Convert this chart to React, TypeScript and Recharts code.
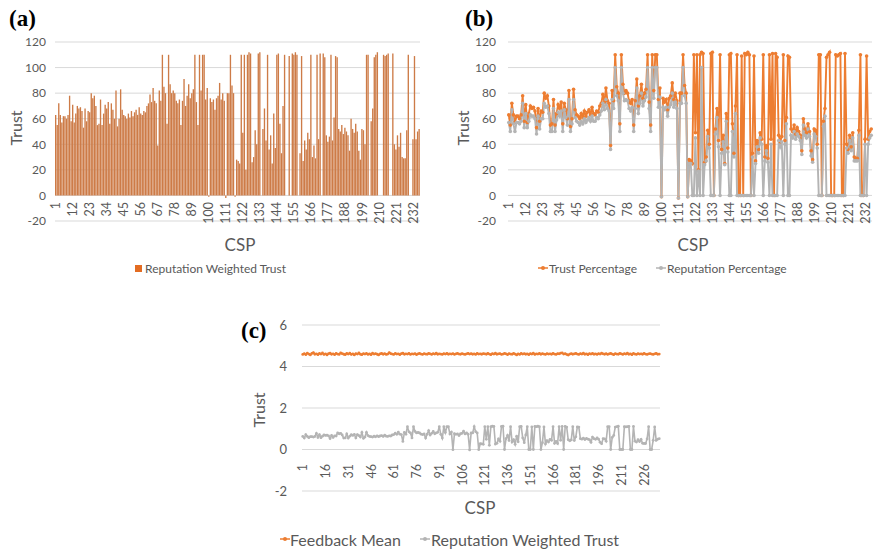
import { BarChart, Bar, LineChart, Line, XAxis, YAxis, CartesianGrid } from "recharts"

// CSP index 1..236
const cspIds = Array.from({ length: 236 }, (_, i) => i + 1)

// (a) bars and (b) orange line: same values in the picture
const weightedTrust = [
  63, 55, 72, 63, 57, 62, 62, 60, 63, 78,
  58, 71, 57, 64, 70, 68, 69, 66, 53, 68,
  58, 66, 65, 80, 76, 78, 70, 55, 56, 75,
  55, 64, 71, 68, 73, 56, 72, 67, 60, 82,
  54, 60, 83, 67, 63, 62, 60, 64, 61, 66,
  62, 65, 67, 63, 69, 64, 63, 66, 65, 70,
  72, 79, 73, 84, 74, 72, 39, 82, 74, 110,
  85, 80, 56, 110, 87, 80, 82, 80, 74, 72,
  75, 55, 74, 91, 70, 78, 87, 76, 80, 83,
  110, 73, 55, 110, 82, 110, 110, 75, 84, -1,
  76, 73, 75, 67, 76, 78, 88, 75, 80, 74,
  -2, 80, 80, 110, 86, 80, -1, 28, 27, 25,
  110, 49, 110, 20, 110, 112, 111, 26, 30, 51,
  40, 111, 112, 0, 52, 68, 43, 110, 36, 47,
  25, 64, 37, 110, 111, 56, 33, 70, 110, 0,
  0, 109, 0, 111, 110, 112, 110, 0, 33, 109,
  27, 43, 36, 49, 44, 110, 30, 39, 29, 110,
  44, 111, 0, 111, 108, 47, 42, 46, 110, 43,
  61, 109, 108, 52, 50, 55, 48, 53, 50, 47,
  35, 60, 52, 49, 56, 50, 35, 28, 52, 51,
  40, 110, 110, 0, 58, 68, 108, 110, 112, 0,
  0, 0, 110, 109, 110, 111, 0, 0, 111, 40,
  36, 47, 38, 49, 30, 29, 29, 51, 110, 0,
  0, 44, 109, 44, 50, 52
]

// (b) gray line
const reputationPct = [
  57, 50, 67, 56, 50, 57, 57, 56, 58, 72,
  53, 64, 53, 58, 63, 62, 62, 60, 48, 62,
  52, 60, 60, 72, 69, 70, 64, 50, 50, 68,
  50, 59, 65, 62, 66, 50, 67, 61, 55, 75,
  50, 56, 75, 61, 58, 57, 55, 58, 56, 60,
  57, 59, 61, 58, 62, 58, 58, 61, 60, 63,
  66, 72, 67, 75, 68, 66, 36, 75, 68, 100,
  78, 74, 50, 100, 80, 74, 75, 74, 68, 66,
  69, 50, 68, 84, 64, 72, 80, 70, 74, 77,
  100, 68, 50, 100, 76, 100, 100, 69, 77, -1,
  69, 67, 69, 62, 69, 71, 80, 69, 73, 68,
  -2, 72, 72, 100, 78, 72, -1, 25, 25, 0,
  0, 45, 0, 19, 0, 100, 0, 24, 27, 46,
  37, 0, 0, 0, 48, 61, 38, 0, 33, 42,
  24, 58, 34, 0, 0, 50, 30, 64, 0, 0,
  0, 0, 0, 0, 0, 0, 0, 0, 30, 0,
  25, 38, 33, 45, 40, 0, 27, 35, 26, 0,
  40, 0, 0, 0, 0, 43, 38, 42, 0, 40,
  56, 0, 0, 47, 45, 50, 44, 48, 46, 43,
  32, 55, 47, 45, 52, 46, 31, 26, 48, 46,
  37, 0, 0, 0, 54, 62, 0, 0, 0, 0,
  0, 0, 0, 0, 0, 0, 0, 0, 0, 37,
  33, 43, 35, 45, 27, 27, 27, 47, 0, 0,
  0, 40, 0, 40, 45, 47
]

// (c) orange line
const feedbackMean = [
  4.58, 4.62, 4.57, 4.64, 4.60, 4.56, 4.63, 4.67, 4.59, 4.61,
  4.57, 4.63, 4.60, 4.65, 4.58, 4.61, 4.56, 4.62, 4.64, 4.59,
  4.61, 4.57, 4.63, 4.60, 4.58, 4.66, 4.62, 4.59, 4.57, 4.63,
  4.60, 4.64, 4.58, 4.61, 4.56, 4.62, 4.60, 4.65, 4.59, 4.57,
  4.62, 4.60, 4.63, 4.58, 4.61, 4.57, 4.64, 4.60, 4.62, 4.59,
  4.56, 4.61, 4.63, 4.59, 4.62, 4.58, 4.60, 4.67, 4.62, 4.60,
  4.58, 4.63, 4.60, 4.61, 4.57, 4.62, 4.64, 4.59, 4.61, 4.60,
  4.63, 4.58, 4.61, 4.60, 4.62, 4.57, 4.61, 4.63, 4.60, 4.58,
  4.62, 4.60, 4.59, 4.63, 4.61, 4.58, 4.62, 4.60, 4.64, 4.59,
  4.61, 4.60, 4.58, 4.62, 4.60, 4.63, 4.59, 4.61, 4.60, 4.62,
  4.58, 4.61, 4.63, 4.60, 4.59, 4.62, 4.60, 4.58, 4.61, 4.63,
  4.60, 4.62, 4.59, 4.61, 4.58, 4.63, 4.60, 4.61, 4.59, 4.62,
  4.61, 4.59, 4.63, 4.60, 4.57, 4.62, 4.60, 4.64, 4.59, 4.61,
  4.62, 4.58, 4.60, 4.63, 4.61, 4.57, 4.62, 4.60, 4.59, 4.63,
  4.60, 4.56, 4.61, 4.58, 4.63, 4.60, 4.62, 4.59, 4.61, 4.57,
  4.62, 4.60, 4.64, 4.58, 4.61, 4.60, 4.63, 4.59, 4.62, 4.60,
  4.58, 4.62, 4.60, 4.61, 4.59, 4.63, 4.60, 4.58, 4.62, 4.61,
  4.64, 4.66, 4.60, 4.62, 4.58, 4.55, 4.60, 4.62, 4.59, 4.61,
  4.63, 4.60, 4.58, 4.62, 4.60, 4.64, 4.59, 4.61, 4.57, 4.62,
  4.60, 4.63, 4.59, 4.61, 4.58, 4.62, 4.60, 4.64, 4.61, 4.59,
  4.62, 4.58, 4.61, 4.63, 4.60, 4.57, 4.62, 4.60, 4.59, 4.63,
  4.61, 4.58, 4.62, 4.60, 4.64, 4.59, 4.61, 4.57, 4.63, 4.60,
  4.58, 4.62, 4.60, 4.61, 4.59, 4.63, 4.60, 4.58, 4.61, 4.62,
  4.60, 4.58, 4.61, 4.63, 4.59, 4.60
]

// (c) gray line
const weightedTrustScaled = [
  0.63, 0.55, 0.72, 0.63, 0.57, 0.62, 0.62, 0.60, 0.63, 0.78,
  0.58, 0.71, 0.57, 0.64, 0.70, 0.68, 0.69, 0.66, 0.53, 0.68,
  0.58, 0.66, 0.65, 0.80, 0.76, 0.78, 0.70, 0.55, 0.56, 0.75,
  0.55, 0.64, 0.71, 0.68, 0.73, 0.56, 0.72, 0.67, 0.60, 0.82,
  0.54, 0.60, 0.83, 0.67, 0.63, 0.62, 0.60, 0.64, 0.61, 0.66,
  0.62, 0.65, 0.67, 0.63, 0.69, 0.64, 0.63, 0.66, 0.65, 0.70,
  0.72, 0.79, 0.73, 0.84, 0.74, 0.72, 0.39, 0.82, 0.74, 1.10,
  0.85, 0.80, 0.56, 1.10, 0.87, 0.80, 0.82, 0.80, 0.74, 0.72,
  0.75, 0.55, 0.74, 0.91, 0.70, 0.78, 0.87, 0.76, 0.80, 0.83,
  1.10, 0.73, 0.55, 1.10, 0.82, 1.10, 1.10, 0.75, 0.84, -0.01,
  0.76, 0.73, 0.75, 0.67, 0.76, 0.78, 0.88, 0.75, 0.80, 0.74,
  -0.02, 0.80, 0.80, 1.10, 0.86, 0.80, -0.01, 0.28, 0.27, 0.25,
  1.10, 0.49, 1.10, 0.20, 1.10, 1.12, 1.11, 0.26, 0.30, 0.51,
  0.40, 1.11, 1.12, 0, 0.52, 0.68, 0.43, 1.10, 0.36, 0.47,
  0.25, 0.64, 0.37, 1.10, 1.11, 0.56, 0.33, 0.70, 1.10, 0,
  0, 1.09, 0, 1.11, 1.10, 1.12, 1.10, 0, 0.33, 1.09,
  0.27, 0.43, 0.36, 0.49, 0.44, 1.10, 0.30, 0.39, 0.29, 1.10,
  0.44, 1.11, 0, 1.11, 1.08, 0.47, 0.42, 0.46, 1.10, 0.43,
  0.61, 1.09, 1.08, 0.52, 0.50, 0.55, 0.48, 0.53, 0.50, 0.47,
  0.35, 0.60, 0.52, 0.49, 0.56, 0.50, 0.35, 0.28, 0.52, 0.51,
  0.40, 1.10, 1.10, 0, 0.58, 0.68, 1.08, 1.10, 1.12, 0,
  0, 0, 1.10, 1.09, 1.10, 1.11, 0, 0, 1.11, 0.40,
  0.36, 0.47, 0.38, 0.49, 0.30, 0.29, 0.29, 0.51, 1.10, 0,
  0, 0.44, 1.09, 0.44, 0.50, 0.52
]

const trustTicks = [-20, 0, 20, 40, 60, 80, 100, 120]
const smallTicks = [-2, 0, 2, 4, 6]

const topData = cspIds.map((id, i) => ({ csp: id, wt: weightedTrust[i], rep: reputationPct[i] }))
const bottomData = cspIds.map((id, i) => ({ csp: id, fb: feedbackMean[i], rwt: weightedTrustScaled[i] }))

const FONT = "Lato, 'Open Sans', sans-serif"
const TXT = "#595959"
const ORANGE = "#ED7D31"
const GRAY = "#B4B4B4"

function RotTick(props: any) {
  const { x, y, payload, lift, size } = props
  const ty = y - lift
  return (
    <text x={x} y={ty} transform={`rotate(-90 ${x} ${ty})`} textAnchor="end" dominantBaseline="central"
      fontSize={size} fill={TXT} fontFamily={FONT}>
      {payload.value}
    </text>
  )
}

function Txt({ x, y, size, children, color = TXT, bold = false, serif = false }: any) {
  return (
    <div style={{
      position: "absolute", left: x, top: y, transform: "translateY(-50%)", whiteSpace: "nowrap",
      fontSize: size, lineHeight: 1, color, fontWeight: bold ? "bold" : "normal",
      fontFamily: serif ? "'Liberation Serif', 'Times New Roman', serif" : FONT
    }}>{children}</div>
  )
}

function CenterTxt({ x, y, size, children, rotate = false }: any) {
  return (
    <div style={{
      position: "absolute", left: x, top: y, whiteSpace: "nowrap", fontSize: size, lineHeight: 1,
      color: TXT, fontFamily: FONT,
      transform: `translate(-50%, -50%)${rotate ? " rotate(-90deg)" : ""}`
    }}>{children}</div>
  )
}

function LineMark({ x, y, color, w = 10 }: any) {
  return (
    <svg style={{ position: "absolute", left: x, top: y - 4 }} width={w} height={8}>
      <line x1={0} y1={4} x2={w} y2={4} stroke={color} strokeWidth={1.5} />
      <circle cx={w / 2} cy={4} r={2} fill={color} />
    </svg>
  )
}

export default function App() {
  const axisTick = { fill: TXT, fontSize: 12, fontFamily: FONT }
  return (
    <div style={{ position: "absolute", left: 0, top: 0, width: 875, height: 552, background: "#fff" }}>
      {/* (a) */}
      <div style={{ position: "absolute", left: 0, top: 0 }}>
        <BarChart width={440} height={290} data={topData} margin={{ top: 42, right: 20, left: 0, bottom: 39 }}
          barSize={1.35}>
          <CartesianGrid vertical={false} stroke="#D9D9D9" />
          <XAxis dataKey="csp" interval={10} axisLine={false} tickLine={false} tickSize={0} tickMargin={0}
            height={30} tick={<RotTick lift={19} size={12.5} />} />
          <YAxis domain={[-20, 120]} ticks={trustTicks} axisLine={false} tickLine={false} tickSize={0}
            tickMargin={9} width={55} tick={axisTick} />
          <Bar dataKey="wt" fill="#CD7B47" isAnimationActive={false} />
        </BarChart>
      </div>
      <Txt x={9} y={18} size={23} bold serif color="#000">(a)</Txt>
      <CenterTxt x={16} y={128} size={16} rotate>Trust</CenterTxt>
      <CenterTxt x={240} y={244} size={17}>CSP</CenterTxt>
      <div style={{ position: "absolute", left: 135, top: 265, width: 7, height: 7, background: "#E36C22" }} />
      <Txt x={145} y={269} size={12}>Reputation Weighted Trust</Txt>

      {/* (b) */}
      <div style={{ position: "absolute", left: 440, top: 0 }}>
        <LineChart width={435} height={290} data={topData} margin={{ top: 42, right: 3, left: 0, bottom: 39 }}>
          <CartesianGrid vertical={false} stroke="#D9D9D9" />
          <XAxis dataKey="csp" scale="band" interval={10} axisLine={false} tickLine={false} tickSize={0}
            tickMargin={0} height={30} tick={<RotTick lift={19} size={12.5} />} />
          <YAxis domain={[-20, 120]} ticks={trustTicks} axisLine={false} tickLine={false} tickSize={0}
            tickMargin={12} width={68} tick={axisTick} />
          <Line type="linear" dataKey="wt" stroke={ORANGE} strokeWidth={1.9} isAnimationActive={false}
            dot={{ r: 1.8, fill: ORANGE, stroke: ORANGE, strokeWidth: 0 }} />
          <Line type="linear" dataKey="rep" stroke={GRAY} strokeWidth={1.9} isAnimationActive={false}
            dot={{ r: 1.8, fill: GRAY, stroke: GRAY, strokeWidth: 0 }} />
        </LineChart>
      </div>
      <Txt x={465} y={18} size={23} bold serif color="#000">(b)</Txt>
      <CenterTxt x={463} y={128} size={16} rotate>Trust</CenterTxt>
      <CenterTxt x={693} y={244} size={17}>CSP</CenterTxt>
      <LineMark x={538} y={268} color={ORANGE} />
      <Txt x={549} y={269} size={12}>Trust Percentage</Txt>
      <LineMark x={656} y={268} color={GRAY} />
      <Txt x={667} y={269} size={12}>Reputation Percentage</Txt>

      {/* (c) */}
      <div style={{ position: "absolute", left: 230, top: 300 }}>
        <LineChart width={440} height={252} data={bottomData} margin={{ top: 25, right: 10, left: 0, bottom: 31 }}>
          <CartesianGrid vertical={false} stroke="#D9D9D9" />
          <XAxis dataKey="csp" scale="band" interval={14} axisLine={false} tickLine={false} tickSize={0}
            tickMargin={0} height={30} tick={<RotTick lift={27} size={12.5} />} />
          <YAxis domain={[-2, 6]} ticks={smallTicks} axisLine={false} tickLine={false} tickSize={0}
            tickMargin={15} width={72} tick={{ ...axisTick, fontSize: 13 }} />
          <Line type="linear" dataKey="fb" stroke={ORANGE} strokeWidth={1.6} isAnimationActive={false}
            dot={{ r: 1.4, fill: ORANGE, stroke: ORANGE, strokeWidth: 0 }} />
          <Line type="linear" dataKey="rwt" stroke={GRAY} strokeWidth={1.6} isAnimationActive={false}
            dot={{ r: 1.4, fill: GRAY, stroke: GRAY, strokeWidth: 0 }} />
        </LineChart>
      </div>
      <Txt x={241} y={330} size={23} bold serif color="#000">(c)</Txt>
      <CenterTxt x={259} y={410} size={16} rotate>Trust</CenterTxt>
      <CenterTxt x={480} y={507} size={17}>CSP</CenterTxt>
      <LineMark x={280} y={539} color={ORANGE} />
      <Txt x={290} y={540} size={16}>Feedback Mean</Txt>
      <LineMark x={420} y={539} color={GRAY} />
      <Txt x={431} y={540} size={16}>Reputation Weighted Trust</Txt>
    </div>
  )
}
